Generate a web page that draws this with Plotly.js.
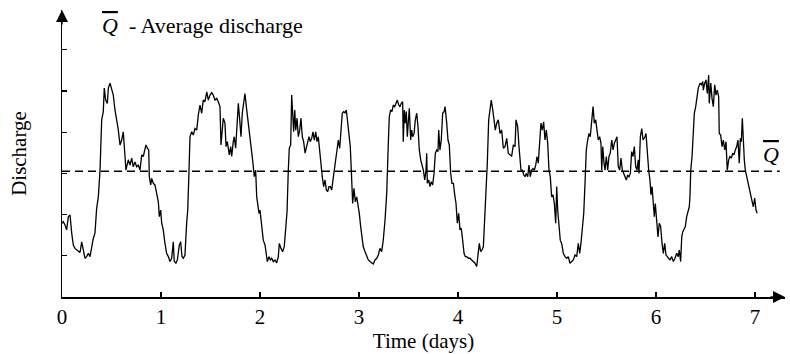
<!DOCTYPE html>
<html>
<head>
<meta charset="utf-8">
<script src="https://cdn.plot.ly/plotly-3.0.1.min.js"></script>
<style>html,body{margin:0;padding:0;background:#fff}#chart{width:790px;height:354px}</style>
</head>
<body>
<div id="chart"></div>
<script>
// Time in days
const timeDays = [
0,0.013,0.030,0.047,0.064,0.081,0.098,0.114,0.131,0.148,
0.165,0.182,0.199,0.215,0.232,0.249,0.266,0.283,0.300,0.316,
0.333,0.350,0.367,0.384,0.401,0.417,0.427,0.441,0.458,0.468,
0.485,0.502,0.518,0.535,0.552,0.569,0.586,0.603,0.619,0.636,
0.646,0.653,0.670,0.687,0.704,0.720,0.737,0.754,0.771,0.788,
0.805,0.821,0.838,0.848,0.862,0.876,0.882,0.896,0.906,0.922,
0.939,0.956,0.973,0.983,0.997,1.007,1.023,1.040,1.057,1.074,
1.091,1.108,1.124,1.134,1.151,1.165,1.185,1.199,1.212,1.225,
1.242,1.259,1.270,1.280,1.293,1.310,1.326,1.343,1.361,1.377,
1.394,1.411,1.427,1.444,1.462,1.478,1.495,1.512,1.528,1.545,
1.563,1.579,1.596,1.606,1.619,1.629,1.646,1.657,1.670,1.680,
1.690,1.704,1.714,1.730,1.740,1.754,1.768,1.781,1.795,1.808,
1.821,1.835,1.848,1.862,1.876,1.889,1.902,1.916,1.929,1.942,
1.956,1.967,1.977,1.990,2.000,2.017,2.033,2.051,2.061,2.074,
2.091,2.104,2.118,2.134,2.152,2.169,2.185,2.195,2.212,2.229,
2.245,2.260,2.273,2.286,2.296,2.310,2.320,2.330,2.340,2.351,
2.361,2.374,2.387,2.401,2.414,2.427,2.441,2.455,2.468,2.482,
2.495,2.508,2.522,2.535,2.549,2.563,2.576,2.589,2.603,2.616,
2.629,2.643,2.657,2.670,2.684,2.697,2.710,2.724,2.737,2.751,
2.765,2.778,2.791,2.805,2.818,2.831,2.845,2.859,2.872,2.886,
2.899,2.912,2.922,2.936,2.949,2.963,2.977,2.990,3.003,3.017,
3.030,3.043,3.061,3.078,3.094,3.111,3.128,3.144,3.162,3.179,
3.195,3.212,3.229,3.245,3.263,3.280,3.296,3.306,3.320,3.333,
3.346,3.361,3.374,3.387,3.401,3.414,3.427,3.441,3.447,3.458,
3.468,3.478,3.488,3.498,3.508,3.522,3.532,3.542,3.556,3.569,
3.583,3.596,3.609,3.623,3.636,3.650,3.664,3.677,3.684,3.690,
3.704,3.717,3.730,3.744,3.758,3.771,3.785,3.798,3.805,3.818,
3.831,3.845,3.859,3.869,3.886,3.899,3.912,3.926,3.939,3.953,
3.967,3.980,3.993,4.007,4.020,4.033,4.047,4.061,4.074,4.088,
4.104,4.121,4.138,4.155,4.172,4.189,4.202,4.215,4.229,4.242,
4.256,4.270,4.283,4.296,4.310,4.323,4.336,4.351,4.364,4.377,
4.391,4.407,4.424,4.441,4.458,4.475,4.492,4.508,4.525,4.542,
4.559,4.576,4.586,4.603,4.616,4.629,4.636,4.650,4.664,4.677,
4.690,4.704,4.717,4.730,4.744,4.758,4.771,4.785,4.798,4.811,
4.825,4.838,4.852,4.865,4.879,4.892,4.906,4.919,4.932,4.946,
4.960,4.973,4.987,4.997,5.007,5.020,5.033,5.047,5.064,5.081,
5.098,5.114,5.131,5.148,5.165,5.182,5.199,5.215,5.229,5.242,
5.256,5.270,5.283,5.296,5.310,5.323,5.336,5.351,5.364,5.377,
5.391,5.404,5.417,5.431,5.444,5.452,5.462,5.475,5.485,5.498,
5.512,5.525,5.538,5.553,5.566,5.579,5.593,5.606,5.619,5.633,
5.646,5.660,5.674,5.687,5.700,5.714,5.727,5.741,5.754,5.768,
5.781,5.795,5.808,5.821,5.828,5.842,5.856,5.869,5.889,5.899,
5.912,5.926,5.939,5.949,5.960,5.973,5.983,5.993,6.007,6.020,
6.033,6.047,6.061,6.074,6.088,6.101,6.114,6.128,6.141,6.158,
6.175,6.192,6.209,6.225,6.235,6.249,6.260,6.270,6.283,6.296,
6.310,6.323,6.336,6.343,6.351,6.364,6.377,6.387,6.401,6.414,
6.427,6.444,6.458,6.472,6.478,6.492,6.505,6.518,6.532,6.538,
6.553,6.566,6.579,6.593,6.606,6.619,6.633,6.639,6.653,6.667,
6.680,6.694,6.707,6.720,6.734,6.747,6.761,6.775,6.788,6.801,
6.815,6.828,6.841,6.852,6.862,6.872,6.882,6.892,6.902,6.916,
6.929,6.942,6.957,6.970,6.983,6.997,7.010,7.023
];
// Discharge (arbitrary units, one unit per axis tick)
const discharge = [
1.79,1.83,1.75,1.63,1.95,1.99,1.55,1.26,1.18,1.14,
1.10,1.08,1.34,1.14,0.94,0.98,1.06,0.98,1.26,1.42,
1.55,2.15,2.43,3.08,4.30,4.50,5.07,4.78,4.70,5.07,
5.19,5.02,4.90,4.54,4.30,4.05,3.69,3.81,4.01,3.49,
3.08,3.16,3.33,3.20,3.37,3.16,3.28,3.16,3.20,3.08,
3.45,3.41,3.57,3.69,3.61,3.57,2.92,2.72,2.88,2.76,
2.72,2.52,2.31,1.95,2.11,1.79,1.63,1.30,1.06,0.98,
0.86,0.94,1.34,0.86,0.82,0.90,1.26,1.34,0.98,0.94,
1.02,1.79,2.11,2.84,3.89,4.01,3.93,4.09,4.05,4.42,
4.66,4.46,4.78,4.74,4.98,4.78,4.90,4.96,4.90,4.78,
4.82,4.74,4.62,3.69,4.01,4.34,4.22,3.65,3.77,3.57,
3.45,3.65,3.41,3.77,3.89,3.61,4.22,4.70,4.30,3.89,
4.46,4.78,4.94,4.62,4.34,4.13,3.89,3.65,3.25,2.92,
3.08,2.43,2.19,2.03,2.11,1.79,1.38,1.26,1.10,0.86,
0.98,0.90,0.94,0.86,0.90,0.83,0.98,1.30,1.18,1.10,
1.22,1.63,2.07,3.08,3.61,3.69,4.90,4.46,4.01,4.54,
4.05,4.34,3.89,4.05,4.34,3.89,3.77,3.49,3.61,3.77,
3.89,3.77,3.85,4.01,3.81,4.01,3.77,3.89,3.53,3.16,
2.92,2.68,2.84,2.60,2.56,2.68,2.68,2.60,2.84,3.04,
3.33,3.53,3.81,3.61,4.09,4.46,4.50,4.47,4.54,4.22,
3.81,3.65,3.08,2.27,2.64,2.31,2.43,2.27,2.03,1.71,
1.38,1.22,1.10,0.98,0.90,0.86,0.83,0.80,0.90,0.94,
1.02,1.18,1.10,1.38,1.87,2.52,3.73,4.38,4.54,4.50,
4.66,4.62,4.70,4.78,4.66,4.62,4.70,4.74,3.77,4.54,
4.22,4.50,3.89,4.38,4.58,3.81,4.05,3.89,3.97,4.30,
4.46,4.13,3.57,3.33,3.20,3.08,2.84,3.08,3.49,2.76,
2.84,2.68,2.80,2.72,3.00,3.49,3.57,3.53,4.05,3.57,
3.81,4.46,4.50,4.62,4.22,3.81,3.69,3.00,2.76,2.76,
2.48,2.27,1.79,2.03,1.63,1.67,1.38,1.06,0.98,0.98,
0.94,0.94,0.90,0.86,0.82,0.74,1.06,1.30,1.10,1.14,
1.22,1.87,2.43,3.25,4.30,4.54,4.78,4.54,4.25,4.05,
4.22,4.30,3.97,4.05,3.61,3.65,3.85,3.49,3.45,3.42,
3.69,3.65,4.30,4.13,3.65,3.33,3.08,3.08,2.96,2.92,
3.00,2.92,3.20,2.92,3.08,3.12,3.08,3.20,3.41,3.25,
3.89,4.22,4.05,4.25,3.81,4.05,3.73,3.08,2.92,2.43,
2.48,2.27,1.79,2.68,2.11,1.63,1.38,1.30,1.06,0.98,
0.94,0.98,0.82,0.86,0.90,1.02,0.98,1.30,1.06,1.30,
1.63,2.03,2.76,3.57,3.81,3.97,3.89,4.30,4.62,4.22,
4.30,4.05,3.81,3.89,3.73,3.08,3.65,3.25,3.08,3.41,
3.08,3.41,3.49,3.81,3.57,3.73,3.81,3.89,3.16,3.08,
3.37,3.08,3.00,2.92,2.84,2.96,2.92,3.00,3.53,3.41,
3.65,3.16,3.08,3.33,3.00,3.89,4.09,3.81,3.89,3.97,
3.41,3.08,2.84,2.48,2.68,2.31,1.95,2.27,1.71,1.46,
1.79,1.71,1.30,1.06,1.30,1.02,0.98,0.94,0.90,0.98,
0.86,0.94,1.06,0.98,1.14,0.86,1.46,1.58,1.63,1.71,
1.95,2.11,2.19,2.43,3.08,3.41,3.89,4.46,4.62,4.86,
5.07,5.19,5.15,5.23,5.02,5.19,5.27,4.94,5.39,4.70,
5.19,4.82,4.62,5.15,4.90,5.02,4.86,3.97,3.93,3.65,
3.81,3.57,3.77,3.08,3.33,3.41,3.37,3.49,3.45,3.57,
3.65,3.81,3.25,3.85,3.77,4.34,3.65,3.33,3.08,2.92,
2.72,2.60,2.43,2.31,2.19,2.40,2.11,2.03
];
const averageDischarge = 3.05;
const averageSpan = [0, 7.25];
const xTickVals = [0, 1, 2, 3, 4, 5, 6, 7];
const xTickText = ['0', '1', '2', '3', '4', '5', '6', '7'];
const yTickVals = [1, 2, 3, 4, 5, 6];

const FONT = 'Liberation Serif, Times New Roman, serif';
const xMax = 7.303, yMax = 6.966;

const traces = [
  {
    x: averageSpan, y: [averageDischarge, averageDischarge],
    mode: 'lines', line: {color: '#000', width: 1.5, dash: '8px,5px'},
    hoverinfo: 'skip', showlegend: false, cliponaxis: false
  },
  {
    x: timeDays, y: discharge,
    mode: 'lines', line: {color: '#000', width: 1.3},
    showlegend: false
  }
];

const layout = {
  width: 790, height: 354,
  margin: {l: 62, r: 5, t: 10, b: 57},
  paper_bgcolor: '#fff', plot_bgcolor: '#fff',
  font: {family: FONT, color: '#000', size: 21},
  xaxis: {
    range: [0, xMax], showgrid: false, zeroline: false,
    showline: true, linecolor: '#000', linewidth: 1.5,
    ticks: 'inside', ticklen: 5, tickwidth: 1.2, tickcolor: '#000',
    tickvals: xTickVals, ticktext: xTickText,
    tickfont: {family: FONT, size: 21},
    title: {text: 'Time (days)', font: {family: FONT, size: 21}, standoff: 2}
  },
  yaxis: {
    range: [0, yMax], showgrid: false, zeroline: false,
    showline: true, linecolor: '#000', linewidth: 1.5,
    ticks: 'inside', ticklen: 5, tickwidth: 1.2, tickcolor: '#000',
    tickvals: yTickVals, showticklabels: false,
    title: {text: 'Discharge', font: {family: FONT, size: 21}, standoff: 28}
  },
  annotations: [
    {x: xMax, y: 0, xref: 'x', yref: 'y', ax: -16, ay: 0, showarrow: true,
     arrowhead: 2, arrowsize: 1.6, arrowwidth: 1.5, arrowcolor: '#000', text: '', standoff: 0},
    {x: 0, y: yMax, xref: 'x', yref: 'y', ax: 0, ay: 16, showarrow: true,
     arrowhead: 2, arrowsize: 1.6, arrowwidth: 1.5, arrowcolor: '#000', text: '', standoff: 0},
    {x: 0.38, y: 6.6, xref: 'x', yref: 'y', xanchor: 'left', yanchor: 'middle', showarrow: false,
     text: '<i><span style="text-decoration:overline">Q</span></i>  - Average discharge',
     font: {family: FONT, size: 22, color: '#000'}},
    {x: 7.16, y: 3.45, xref: 'x', yref: 'y', xanchor: 'center', yanchor: 'middle', showarrow: false,
     text: '<i><span style="text-decoration:overline">Q</span></i>',
     font: {family: FONT, size: 22, color: '#000'}}
  ]
};

Plotly.newPlot('chart', traces, layout, {displayModeBar: false, staticPlot: true});
</script>
</body>
</html>
